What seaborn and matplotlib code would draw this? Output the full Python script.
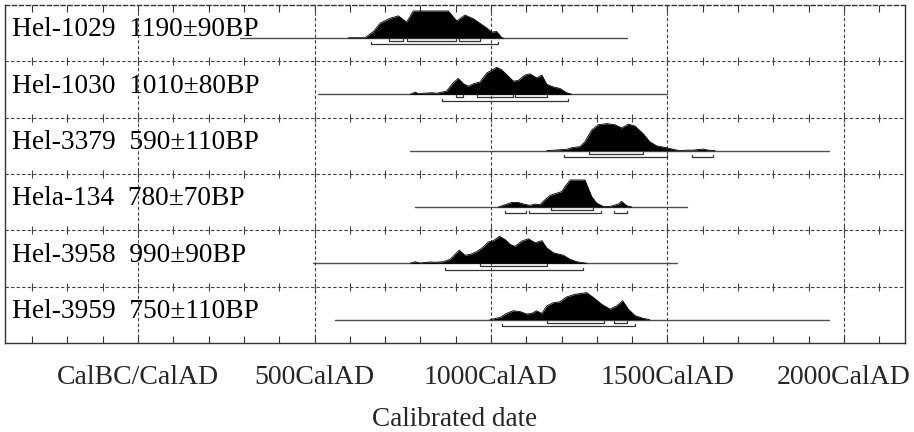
import numpy as np
import pandas as pd
import seaborn as sns
import matplotlib.pyplot as plt

# sample labels
labels = ['Hel-1029  1190\u00b190BP', 'Hel-1030  1010\u00b180BP', 'Hel-3379  590\u00b1110BP',
          'Hela-134  780\u00b170BP', 'Hel-3958  990\u00b190BP', 'Hel-3959  750\u00b1110BP']

# calibrated probability curves (year AD, relative probability)
hel1029_year = [596, 643, 667, 686, 714, 738, 752, 761, 780, 879, 903, 926, 950, 988, 1002, 1016, 1030, 1035]
hel1029_prob = [0.01, 0.01, 0.24, 0.55, 0.73, 0.82, 0.67, 0.59, 1.0, 1.0, 0.63, 0.85, 0.71, 0.37, 0.22, 0.24, 0.02, 0]
hel1030_year = [771, 785, 794, 808, 832, 846, 874, 893, 907, 922, 936, 950, 969, 988, 1016, 1030, 1049, 1063,
                1077, 1096, 1110, 1129, 1144, 1158, 1177, 1195, 1214, 1229]
hel1030_prob = [0, 0.085, 0.02, 0.04, 0.06, 0.04, 0.12, 0.43, 0.59, 0.39, 0.30, 0.39, 0.46, 0.79, 1.0, 0.91,
                0.67, 0.49, 0.51, 0.71, 0.76, 0.61, 0.71, 0.37, 0.27, 0.22, 0.06, 0]
hel3379_year = [1158, 1214, 1229, 1252, 1266, 1285, 1304, 1328, 1351, 1370, 1389, 1408, 1431, 1450, 1469,
                1493, 1516, 1535, 1554, 1573, 1601, 1616, 1635]
hel3379_prob = [0, 0.05, 0.11, 0.15, 0.33, 0.76, 0.96, 1.0, 0.96, 0.84, 0.98, 0.91, 0.63, 0.33, 0.18, 0.12,
                0.05, 0, 0.02, 0.02, 0.06, 0.02, 0]
hela134_year = [1021, 1040, 1059, 1077, 1092, 1110, 1125, 1139, 1153, 1167, 1186, 1200, 1210, 1224, 1266,
                1285, 1299, 1318, 1337, 1361, 1370, 1384, 1399]
hela134_prob = [0, 0.085, 0.17, 0.17, 0.11, 0.06, 0.11, 0.085, 0.27, 0.43, 0.51, 0.57, 0.76, 1.0, 1.0, 0.39,
                0.15, 0.02, 0.02, 0.11, 0.21, 0.05, 0]
hel3958_year = [771, 785, 799, 827, 841, 865, 884, 898, 910, 926, 941, 959, 978, 992, 1007, 1024, 1040, 1054,
                1068, 1087, 1106, 1125, 1144, 1158, 1177, 1205, 1224, 1243, 1271]
hel3958_prob = [0, 0.06, 0.01, 0.05, 0.04, 0.06, 0.15, 0.33, 0.49, 0.30, 0.33, 0.43, 0.60, 0.79, 0.84, 1.0,
                0.88, 0.70, 0.63, 0.82, 0.91, 0.76, 0.84, 0.57, 0.39, 0.30, 0.15, 0.06, 0]
hel3959_year = [997, 1026, 1044, 1063, 1082, 1101, 1115, 1129, 1144, 1158, 1177, 1195, 1214, 1238, 1271,
                1290, 1314, 1337, 1356, 1373, 1389, 1408, 1431, 1450]
hel3959_prob = [0, 0.085, 0.23, 0.33, 0.30, 0.21, 0.23, 0.33, 0.23, 0.51, 0.63, 0.66, 0.84, 0.94, 1.0, 0.82,
                0.57, 0.39, 0.51, 0.70, 0.39, 0.15, 0.05, 0]

# 68.2% and 95.4% ranges
sigma1 = [[(712, 750), (761, 901), (910, 969)],
          [(901, 922), (959, 1061), (1068, 1160)],
          [(1279, 1430)],
          [(1170, 1290)],
          [(969, 1160)],
          [(1160, 1320), (1348, 1386)]]
sigma2 = [[(659, 1021)],
          [(860, 1219)],
          [(1207, 1498), (1569, 1630)],
          [(1040, 1099), (1109, 1311), (1348, 1384)],
          [(870, 1260)],
          [(1030, 1408)]]

# extent of the horizontal line under each curve
spans = [(289, 1385), (510, 1499), (771, 1958), (785, 1555), (496, 1527), (558, 1958)]

tick_pos = [0, 500, 1000, 1500, 2000]
tick_labels = ['CalBC/CalAD', '500CalAD', '1000CalAD', '1500CalAD', '2000CalAD']

years = [hel1029_year, hel1030_year, hel3379_year, hela134_year, hel3958_year, hel3959_year]
probs = [hel1029_prob, hel1030_prob, hel3379_prob, hela134_prob, hel3958_prob, hel3959_prob]

frames = []
for i, (yr, pr) in enumerate(zip(years, probs)):
    frames.append(pd.DataFrame({'year': yr, 'prob': pr, 'row': i}))
df = pd.concat(frames, ignore_index=True)

sns.set_theme(style='white')
plt.rcParams['font.family'] = ['Liberation Serif', 'DejaVu Serif']
plt.rcParams['mathtext.default'] = 'regular'

fig = plt.figure(figsize=(9.14, 4.32), dpi=100)
ax = fig.add_axes([5 / 914, 1 - 343 / 432, 900 / 914, 338 / 432])

base_off = 0.586   # baseline position inside a row
peak_h = 0.48      # height of the tallest point
dash = (0, (3, 2))

# grid
for x in tick_pos:
    ax.axvline(x, color='0.25', lw=0.8, linestyle=dash, zorder=1)
for r in range(1, 6):
    ax.axhline(r, color='0.25', lw=0.8, linestyle=dash, zorder=1)
minor = np.arange(-300, 2200, 100)
for r in range(1, 6):
    ax.plot(minor, np.full(len(minor), r), linestyle='none', marker='|', markersize=6,
            markeredgewidth=0.8, color='0.25', zorder=1)

# probability curves
df['y'] = df['row'] + base_off - df['prob'] * peak_h
for i in range(6):
    sub = df[df['row'] == i]
    base = i + base_off
    s0, s1 = spans[i]
    ax.plot([s0, s1], [base, base], color='0.3', lw=1.0, zorder=2)
    ax.fill_between(sub['year'], base, sub['y'], color='black', lw=0, zorder=3)
    ax.text(-357, i + 0.44, labels[i], fontsize=19.7, va='center', ha='left', color='black')
    # range brackets
    for k, rngs in enumerate([sigma1[i], sigma2[i]]):
        yb = base + 0.055 * (k + 1)
        for a, b in rngs:
            ax.plot([a, a, b, b], [yb - 0.035, yb, yb, yb - 0.035], color='0.2', lw=0.9, zorder=3)
sns.lineplot(data=df, x='year', y='y', units='row', estimator=None, color='black', lw=0.6,
             ax=ax, zorder=4, legend=False)

ax.set_xlim(-377, 2173)
ax.set_ylim(6, 0)
ax.set_yticks([])
ax.set_xticks(tick_pos)
ax.set_xticklabels(tick_labels, fontsize=20)
ax.set_xticks(minor, minor=True)
ax.tick_params(axis='x', which='both', direction='in', length=5, width=0.8, top=True, bottom=True,
               color='0.2', pad=16)
ax.set_xlabel('Calibrated date', fontsize=19.5, labelpad=12)
ax.set_ylabel('')
for side in ['left', 'right', 'bottom', 'top']:
    ax.spines[side].set_color('0.2')
    ax.spines[side].set_linewidth(1.0)
ax.spines['top'].set_linestyle(dash)

fig.savefig('out.png', dpi=100)
